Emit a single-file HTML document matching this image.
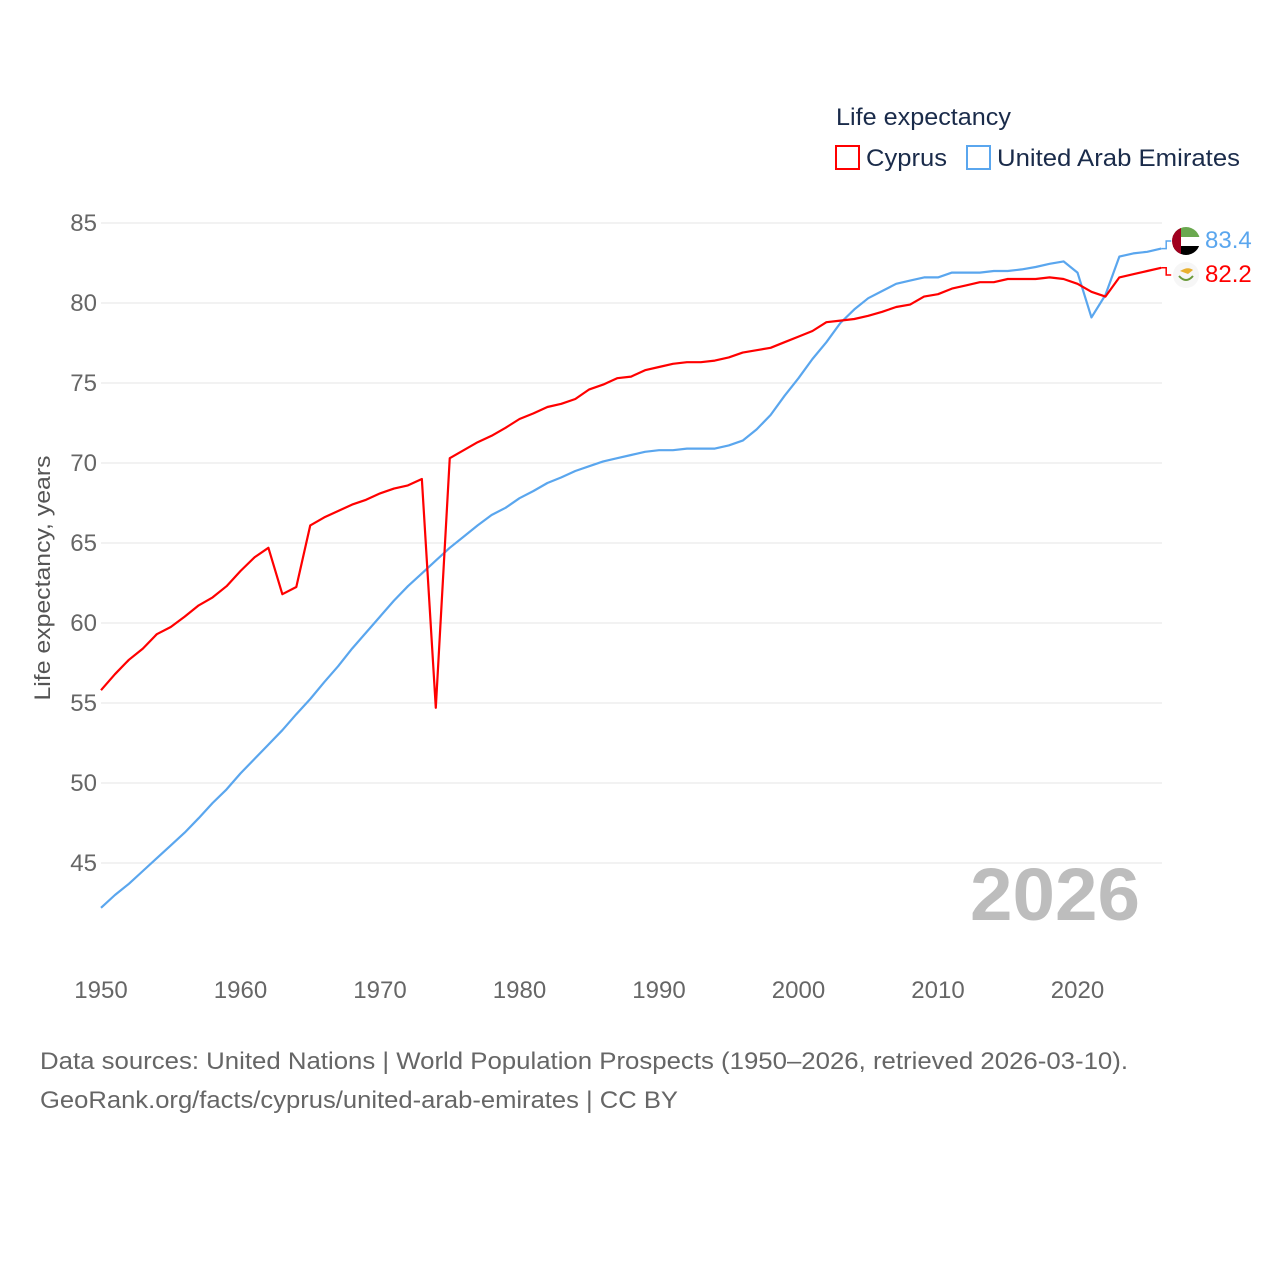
<!DOCTYPE html>
<html><head><meta charset="utf-8"><style>
body{margin:0;background:#fff;font-family:"Liberation Sans",sans-serif;}
svg text{font-family:"Liberation Sans",sans-serif;}
</style></head><body>
<svg id="chart" width="1280" height="1280" viewBox="0 0 1280 1280" xmlns="http://www.w3.org/2000/svg">
<rect width="1280" height="1280" fill="#fff"/>
<g id="grid"></g>
<g id="yticks"></g>
<g id="xticks"></g>
<text transform="translate(50,578) rotate(-90)" text-anchor="middle" font-size="22" fill="#555" textLength="245" lengthAdjust="spacingAndGlyphs">Life expectancy, years</text>
<text x="1140" y="920" text-anchor="end" font-size="74" font-weight="bold" fill="#bdbdbd" textLength="170" lengthAdjust="spacingAndGlyphs">2026</text>
<g id="series"></g>
<text x="836" y="125" font-size="24" fill="#1a2b4a" textLength="175" lengthAdjust="spacingAndGlyphs">Life expectancy</text>
<g>
<rect x="836" y="146" width="23" height="23" fill="none" stroke="#ff0000" stroke-width="2"/>
<text x="866" y="166" font-size="24" fill="#1a2b4a" textLength="81" lengthAdjust="spacingAndGlyphs">Cyprus</text></g>
<g>
<rect x="967" y="146" width="23" height="23" fill="none" stroke="#5aa6ee" stroke-width="2"/>
<text x="997" y="166" font-size="24" fill="#1a2b4a" textLength="243" lengthAdjust="spacingAndGlyphs">United Arab Emirates</text></g>
<g>
<clipPath id="cu"><circle cx="1186" cy="241" r="14"/></clipPath>
<g clip-path="url(#cu)">
<rect x="1172" y="227" width="28" height="10" fill="#6aa84f"/>
<rect x="1172" y="237" width="28" height="9" fill="#fff"/>
<rect x="1172" y="246" width="28" height="10" fill="#000"/>
<rect x="1172" y="227" width="9" height="28" fill="#a0001f"/></g></g>
<g>
<circle cx="1186" cy="275" r="13" fill="#f6f6f6"/>
<path d="M1180 271 Q1188 266 1193 270 L1188 274 Z" fill="#e8b030"/>
<path d="M1179 276 Q1186 284 1193 276" fill="none" stroke="#6a9a3a" stroke-width="2"/></g>
<text x="1205" y="248" font-size="24" fill="#5aa6ee">83.4</text>
<text x="1205" y="282" font-size="24" fill="#ff0000">82.2</text>
<text x="40" y="1069" font-size="24" fill="#666" textLength="1088" lengthAdjust="spacingAndGlyphs">Data sources: United Nations | World Population Prospects (1950–2026, retrieved 2026-03-10).</text>
<text x="40" y="1108" font-size="24" fill="#666" textLength="638" lengthAdjust="spacingAndGlyphs">GeoRank.org/facts/cyprus/united-arab-emirates | CC BY</text>
</svg>
<script>
const years=[];for(let y=1950;y<=2026;y++)years.push(y);
const cyprus=[55.8,56.8,57.7,58.4,59.3,59.75,60.4,61.1,61.6,62.3,63.25,64.1,64.7,61.8,62.25,66.1,66.6,67.0,67.4,67.7,68.1,68.4,68.6,69.0,54.7,70.3,70.8,71.3,71.7,72.2,72.75,73.1,73.5,73.7,74.0,74.6,74.9,75.3,75.4,75.8,76.0,76.2,76.3,76.3,76.4,76.6,76.9,77.05,77.2,77.55,77.9,78.25,78.8,78.9,79.0,79.2,79.45,79.75,79.9,80.4,80.55,80.9,81.1,81.3,81.3,81.5,81.5,81.5,81.6,81.5,81.2,80.7,80.4,81.6,81.8,82.0,82.2];
const uae=[42.2,43.0,43.7,44.5,45.3,46.1,46.9,47.8,48.75,49.6,50.6,51.5,52.4,53.3,54.3,55.25,56.3,57.3,58.4,59.4,60.4,61.4,62.3,63.1,63.9,64.7,65.4,66.1,66.75,67.2,67.8,68.25,68.75,69.1,69.5,69.8,70.1,70.3,70.5,70.7,70.8,70.8,70.9,70.9,70.9,71.1,71.4,72.1,73.0,74.2,75.3,76.5,77.55,78.75,79.6,80.3,80.75,81.2,81.4,81.6,81.6,81.9,81.9,81.9,82.0,82.0,82.1,82.25,82.45,82.6,81.9,79.1,80.5,82.9,83.1,83.2,83.4];
const yTicks=[45,50,55,60,65,70,75,80,85];
const xTicks=[1950,1960,1970,1980,1990,2000,2010,2020];
const X=y=>101+(y-1950)*13.95;
const Y=v=>223+(85-v)*16;
const NS="http://www.w3.org/2000/svg";
function mk(t,a,p){const e=document.createElementNS(NS,t);for(const k in a)e.setAttribute(k,a[k]);p.appendChild(e);return e;}
const grid=document.getElementById('grid'),yt=document.getElementById('yticks'),xt=document.getElementById('xticks'),ser=document.getElementById('series');
yTicks.forEach(v=>{
const l=mk('line',{x1:101,x2:1162,y1:Y(v),y2:Y(v),stroke:'#e6e6e6','stroke-width':1},grid);


const t=mk('text',{x:97,y:Y(v)+8,'text-anchor':'end','font-size':24,fill:'#666'},yt);t.textContent=v;


});
xTicks.forEach(v=>{
const t=mk('text',{x:X(v),y:998,'text-anchor':'middle','font-size':24,fill:'#666'},xt);t.textContent=v;


});
function line(d,c,n){
const p=mk('polyline',{points:d.map((v,i)=>X(years[i])+','+Y(v)).join(' '),fill:'none',stroke:c,'stroke-width':2.2,'stroke-linejoin':'round'},ser);


}
line(uae,'#5aa6ee','line-uae');
line(cyprus,'#ff0000','line-cyprus');
const lx=X(2026);
const c1=mk('polyline',{points:`${lx},${Y(uae[uae.length-1])} ${lx+5},${Y(uae[uae.length-1])} ${lx+5},241 ${lx+10},241`,fill:'none',stroke:'#5aa6ee','stroke-width':1.5},ser);


const c2=mk('polyline',{points:`${lx},${Y(cyprus[cyprus.length-1])} ${lx+5},${Y(cyprus[cyprus.length-1])} ${lx+5},275 ${lx+10},275`,fill:'none',stroke:'#ff0000','stroke-width':1.5},ser);


</script>
</body></html>
